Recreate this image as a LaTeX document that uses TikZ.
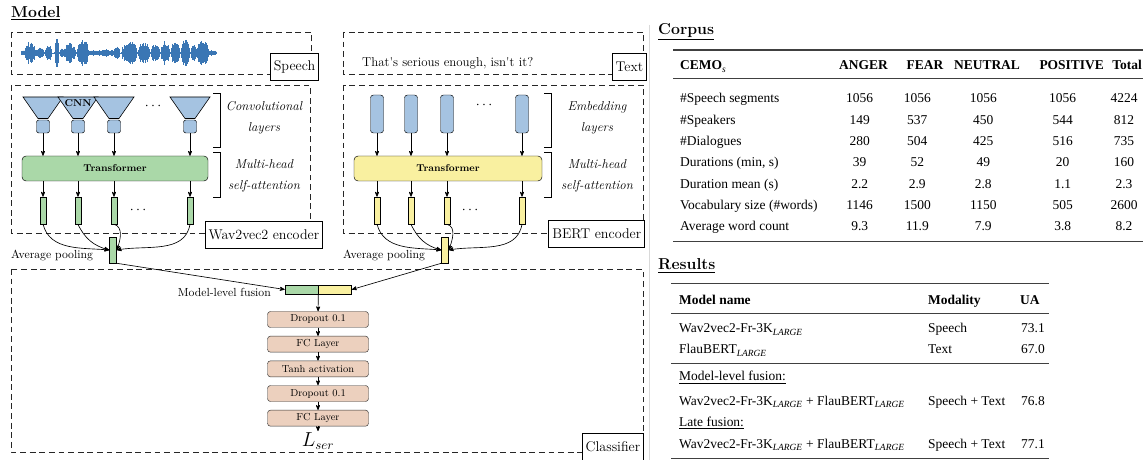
\documentclass[tikz,border=0pt]{standalone}
\usepackage{fontspec}
\newfontfamily\tabfont{Liberation Serif}
\usepackage{tikz}
\usetikzlibrary{arrows,positioning,calc}

\definecolor{wavblue}{RGB}{58,118,180}
\definecolor{cnnblue}{RGB}{165,195,225}
\definecolor{wgreen}{RGB}{170,216,168}
\definecolor{byellow}{RGB}{249,240,160}
\definecolor{cpeach}{RGB}{236,208,190}
\newcommand{\pxu}{0.03cm}
\newcommand{\lrg}{\textsubscript{\textit{LARGE}}}

\begin{document}
\begin{tikzpicture}[x=\pxu, y=-\pxu, >=stealth',
	grp/.style={draw=black!85, dash pattern=on 5pt off 3.2pt, line width=0.75pt},
	tag/.style={draw, fill=white, line width=0.6pt, inner xsep=3pt, inner ysep=0pt, minimum height=27*\pxu, font=\fontsize{12}{14}\selectfont},
	cnnbox/.style={draw, fill=cnnblue, rounded corners=2pt, minimum width=13*\pxu, minimum height=13*\pxu, inner sep=0pt},
	emb/.style={draw, fill=cnnblue, rounded corners=2.5pt, minimum width=13*\pxu, minimum height=38*\pxu, inner sep=0pt},
	trf/.style={draw, rounded corners=3.5pt, minimum height=25*\pxu, inner sep=0pt, font=\fontsize{8.5}{10}\selectfont\bfseries},
	vec/.style={draw, line width=0.5pt, minimum width=6*\pxu, minimum height=27*\pxu, inner sep=0pt},
	cls/.style={draw=black!80, fill=cpeach, rounded corners=2.5pt, minimum width=101*\pxu, minimum height=16*\pxu, inner sep=0pt, font=\fontsize{8.7}{10}\selectfont},
	side/.style={align=center, inner sep=0pt, font=\fontsize{11}{18}\selectfont\itshape},
	note/.style={inner sep=0pt, font=\fontsize{10}{12}\selectfont},
	head/.style={inner sep=0pt, font=\fontsize{13.5}{15}\selectfont\bfseries},
	flow/.style={->, line width=0.55pt},
	brk/.style={line width=0.6pt},
	rulethick/.style={draw=black!75, line width=1pt},
	rulethin/.style={draw=black!75, line width=0.5pt},
	cell/.style={inner sep=0pt, font=\tabfont\fontsize{11.5}{13}\selectfont},
	hcell/.style={cell, font=\tabfont\fontsize{11.5}{13}\selectfont\bfseries}]

\useasboundingbox (0,0) rectangle (1147,460);
\draw[black!15, line width=0.5pt] (649,25) -- (649,460);

% ---- model ----
\node[head, anchor=base west] (hmodel) at (11,18) {\underline{Model}};

% inputs
\draw[grp] (11,32) rectangle (311,74);
\draw[grp] (343,32) rectangle (643,74);
\pgfmathsetseed{11}
\draw[wavblue, line width=0.6pt] (22,53) -- (217,53);
\foreach \c/\w/\h in {23.5/2/2, 30.5/5.5/11, 40/4/5, 48.5/3.5/7, 57/2/14, 62/2/4, 70/6/9, 83/6/13,
		93.5/4.5/2, 104/6/3, 112/2/2, 117/3/6, 129.5/7.5/12, 144/6/10, 155.5/4.5/8, 165.5/4.5/11,
		175.5/4.5/11, 185.5/4.5/13, 194/3/7, 203/6/12, 213/4/2}
	\foreach \i in {-1,-0.9,...,1}
	{
		\pgfmathsetmacro\xx{\c+\i*\w}
		\pgfmathsetmacro\aa{\h*sqrt(max(0,1-\i*\i))*(0.45+0.55*rnd)+0.8}
		\draw[wavblue, line width=0.9pt] (\xx,53-\aa) -- (\xx,53+\aa);
	}
\node[inner sep=0pt, anchor=base west, font=\fontsize{11}{13}\selectfont] (sent) at (362,66.5) {That\textquotesingle s serious enough, isn\textquotesingle t it?};
\node[tag, anchor=north east] (tspeech) at (319,53) {Speech};
\node[tag, anchor=north east] (ttext) at (647,53) {Text};

% encoders
\draw[grp] (11,85) rectangle (310,233);
\draw[grp] (343,85) rectangle (643,233);
\node[trf, fill=wgreen, minimum width=186*\pxu] (strf) at (115,168.5) {Transformer};
\node[trf, fill=byellow, minimum width=188*\pxu] (btrf) at (448,168.5) {Transformer};

\foreach \c [count=\k] in {43,78,114,190}
{
	\filldraw[fill=cnnblue, line width=0.5pt] (\c-20,97) -- (\c+20,97) -- (\c+5,118.5) -- (\c-5,118.5) -- cycle;
	\node[cnnbox] (cnn\k) at (\c,126.5) {};
	\draw[flow] (cnn\k) -- (cnn\k |- strf.north);
	\node[vec, fill=wgreen] (sv\k) at (\c,210.5) {};
	\draw[flow] (strf.south -| sv\k) -- (sv\k);
}
\node[inner sep=0pt, font=\fontsize{8.5}{10}\selectfont\bfseries] (cnnlab) at (78,103.5) {CNN};

\foreach \c [count=\k] in {377,411,447,522}
{
	\node[emb] (emb\k) at (\c,114) {};
	\draw[flow] (emb\k) -- (emb\k |- btrf.north);
	\node[vec, fill=byellow] (bv\k) at (\c,210.5) {};
	\draw[flow] (btrf.south -| bv\k) -- (bv\k);
}

\node[font=\fontsize{12}{14}\selectfont] (sdots1) at (153,106) {$\cdots$};
\node[font=\fontsize{12}{14}\selectfont] (sdots2) at (138,210) {$\cdots$};
\node[font=\fontsize{12}{14}\selectfont] (bdots1) at (484,105) {$\cdots$};
\node[font=\fontsize{12}{14}\selectfont] (bdots2) at (470,210) {$\cdots$};

% brackets
\draw[brk] (213,93) -- (220,93) -- (220,147) -- (213,147);
\draw[brk] (213,152) -- (220,152) -- (220,197) -- (213,197);
\draw[brk] (544,93) -- (551,93) -- (551,147) -- (544,147);
\draw[brk] (544,152) -- (551,152) -- (551,197) -- (544,197);
\node[side] (sconv) at (264,118) {Convolutional\\layers};
\node[side] (satt) at (264,176) {Multi-head\\self-attention};
\node[side] (bemb) at (597,118) {Embedding\\layers};
\node[side] (batt) at (597,176) {Multi-head\\self-attention};

% pooling
\node[vec, fill=wgreen, minimum width=7*\pxu, minimum height=26*\pxu] (spool) at (113,250) {};
\node[vec, fill=byellow, minimum width=7*\pxu, minimum height=26*\pxu] (bpool) at (445,250) {};
\node[note, anchor=base west] (savg) at (11,259) {Average pooling};
\node[note, anchor=base west] (bavg) at (343,259) {Average pooling};

\draw[flow] (sv1.south) to[out=-75, in=175] (spool.west);
\draw[flow] (sv2.south) to[out=-65, in=165] (spool.west);
\draw[flow] (sv3.south) to[out=-15, in=70] (spool.east);
\draw[flow] (sv4.south) to[out=-100, in=10] (spool.east);
\draw[flow] (bv1.south) to[out=-75, in=175] (bpool.west);
\draw[flow] (bv2.south) to[out=-65, in=165] (bpool.west);
\draw[flow] (bv3.south) to[out=-15, in=70] (bpool.east);
\draw[flow] (bv4.south) to[out=-100, in=10] (bpool.east);

\node[tag, anchor=north east] (twav) at (323,221) {Wav2vec2 encoder};
\node[tag, anchor=north east] (tbert) at (645,220) {BERT encoder};

% classifier
\draw[grp] (11,269) rectangle (643,452);
\node[vec, fill=wgreen, minimum width=33*\pxu, minimum height=9*\pxu] (fuseg) at (301.5,289.5) {};
\node[vec, fill=byellow, minimum width=33*\pxu, minimum height=9*\pxu, anchor=west] (fusey) at (fuseg.east) {};
\node[note, anchor=base east] (fuselab) at (271,296.5) {Model-level fusion};
\draw[flow] (spool.south east) -- (fuseg.west);
\draw[flow] (bpool.south west) -- (fusey.east);

\node[cls] (drop1) at (318,319.5) {Dropout 0.1};
\node[cls, below=7pt of drop1] (fc1) {FC Layer};
\node[cls, below=7pt of fc1] (tanh) {Tanh activation};
\node[cls, below=7pt of tanh] (drop2) {Dropout 0.1};
\node[cls, below=7pt of drop2] (fc2) {FC Layer};
\node[inner sep=1pt, below=4pt of fc2, font=\fontsize{16}{18}\selectfont] (lser) {$L_{ser}$};
\draw[flow] (fuseg.south east) -- (drop1);
\foreach \a/\b in {drop1/fc1, fc1/tanh, tanh/drop2, drop2/fc2, fc2/lser}
	\draw[flow] (\a) -- (\b);
\node[tag, anchor=north east] (tcls) at (644,433) {Classifier};

% ---- corpus ----
\node[head, anchor=base west] (hcorpus) at (658,35) {\underline{Corpus}};
\draw[rulethick] (673,50) -- (1143,50);
\draw[rulethin] (673,78.3) -- (1143,78.3);
\draw[rulethick] (673,241.5) -- (1143,241.5);
\node[hcell, anchor=base west] (ch0) at (680,70) {CEMO\textsubscript{\textmd{\textit{s}}}};
\foreach \t/\x [count=\k] in {ANGER/863.5, FEAR/925, NEUTRAL/987, POSITIVE/1071.7, Total/1127}
	\node[hcell, anchor=base] (ch\k) at (\x,70) {\t};
\foreach \lab/\cA/\cB/\cC/\cD/\cT [count=\r] in {
	{\#Speech segments}/1056/1056/1056/1056/4224,
	{\#Speakers}/149/537/450/544/812,
	{\#Dialogues}/280/504/425/516/735,
	{Durations (min, s)}/39/52/49/20/160,
	{Duration mean (s)}/2.2/2.9/2.8/1.1/2.3,
	{Vocabulary size (\#words)}/1146/1500/1150/505/2600,
	{Average word count}/9.3/11.9/7.9/3.8/8.2}
{
	\pgfmathsetmacro\yb{102.8+21.33*(\r-1)}
	\node[cell, anchor=base west] (c\r-0) at (680,\yb) {\lab};
	\node[cell, anchor=base] (c\r-1) at (859.7,\yb) {\cA};
	\node[cell, anchor=base] (c\r-2) at (917.3,\yb) {\cB};
	\node[cell, anchor=base] (c\r-3) at (983.3,\yb) {\cC};
	\node[cell, anchor=base] (c\r-4) at (1062.7,\yb) {\cD};
	\node[cell, anchor=base] (c\r-5) at (1124,\yb) {\cT};
}

% ---- results ----
\node[head, anchor=base west] (hres) at (658,270) {\underline{Results}};
\draw[rulethick] (671,283.3) -- (1049,283.3);
\draw[rulethin] (671,313.3) -- (1049,313.3);
\draw[rulethin] (671,363.3) -- (1049,363.3);
\draw[rulethick] (671,458.3) -- (1049,458.3);
\node[hcell, anchor=base west] (rh1) at (679,305) {Model name};
\node[hcell, anchor=base west] (rh2) at (928,305) {Modality};
\node[hcell, anchor=base west] (rh3) at (1020,305) {UA};
\node[cell, anchor=base west] (r1-1) at (679,333) {Wav2vec2-Fr-3K\lrg};
\node[cell, anchor=base west] (r1-2) at (928,333) {Speech};
\node[cell, anchor=base west] (r1-3) at (1021,333) {73.1};
\node[cell, anchor=base west] (r2-1) at (679,354) {FlauBERT\lrg};
\node[cell, anchor=base west] (r2-2) at (928,354) {Text};
\node[cell, anchor=base west] (r2-3) at (1021,354) {67.0};
\node[cell, anchor=base west] (r3-1) at (679,381) {\underline{Model-level fusion:}};
\node[cell, anchor=base west] (r4-1) at (679,405.7) {Wav2vec2-Fr-3K\lrg{} + FlauBERT\lrg};
\node[cell, anchor=base west] (r4-2) at (928,405.7) {Speech + Text};
\node[cell, anchor=base west] (r4-3) at (1021,405.7) {76.8};
\node[cell, anchor=base west] (r5-1) at (679,426.7) {\underline{Late fusion:}};
\node[cell, anchor=base west] (r6-1) at (679,448.3) {Wav2vec2-Fr-3K\lrg{} + FlauBERT\lrg};
\node[cell, anchor=base west] (r6-2) at (928,448.3) {Speech + Text};
\node[cell, anchor=base west] (r6-3) at (1021,448.3) {77.1};
\end{tikzpicture}
\end{document}
